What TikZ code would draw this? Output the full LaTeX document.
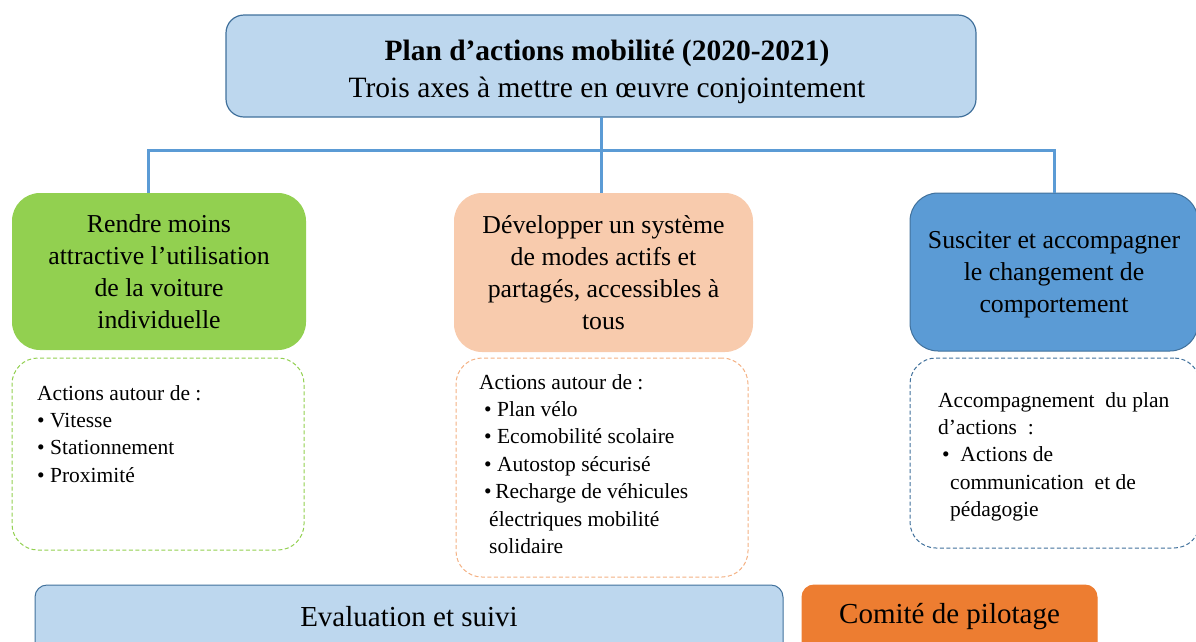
\documentclass[tikz,border=0pt]{standalone}
\usepackage{fontspec}
\setmainfont{Liberation Serif}
\definecolor{lightblue}{HTML}{BDD7EE}
\definecolor{darkblue}{HTML}{41719C}
\definecolor{lineblue}{HTML}{5B9BD5}
\definecolor{midblue}{HTML}{5B9BD5}
\definecolor{green1}{HTML}{92D050}
\definecolor{peach}{HTML}{F8CBAD}
\definecolor{peachline}{HTML}{F4B183}
\definecolor{orange1}{HTML}{ED7D31}
\begin{document}
\begin{tikzpicture}[x=1pt,y=-1pt,
  conn/.style={draw=lineblue, line width=3pt},
  bigbox/.style={rounded corners=28pt, inner sep=0pt, outer sep=0pt, align=center,
    font=\fontsize{25.8}{32}\selectfont},
  dashbox/.style={rounded corners=26pt, dash pattern=on 4pt off 2.5pt, line width=1pt,
    inner sep=0pt, outer sep=0pt, fill=white},
  listtext/.style={anchor=north west, align=left, inner sep=0pt,
    font=\fontsize{21.5}{27.4}\selectfont},
  basebox/.style={rounded corners=12pt, inner sep=0pt, outer sep=0pt, line width=1pt},
  basetext/.style={inner sep=0pt, font=\fontsize{29}{34}\selectfont}]
\useasboundingbox (0,0) rectangle (1196,641);
\clip (0,0) rectangle (1196,641);

% top box
\node[draw=darkblue, line width=1.2pt, fill=lightblue, rounded corners=18pt,
  inner sep=0pt, outer sep=0pt, minimum width=750pt, minimum height=102pt] (top) at (601,66) {};
\node[align=center, inner sep=0pt, font=\fontsize{29.5}{37}\selectfont] (toptext) at (607,72)
  {\textbf{Plan d’actions mobilité (2020-2021)}\\Trois axes à mettre en œuvre conjointement};

% three axes
\node[bigbox, fill=green1, minimum width=294pt, minimum height=157pt] (green) at (159,271.5)
  {Rendre moins\\attractive l’utilisation\\de la voiture\\individuelle};
\node[bigbox, fill=peach, minimum width=299pt, minimum height=159pt] (mid) at (603.5,272.5)
  {Développer un système\\de modes actifs et\\partagés, accessibles à\\tous};
\node[bigbox, fill=midblue, draw=darkblue, line width=1pt, minimum width=288pt, minimum height=158pt] (blue) at (1054,272) {};
\node[align=center, inner sep=0pt, font=\fontsize{25.8}{32}\selectfont] (bluetext) at (1054,275)
  {Susciter et accompagner\\le changement de\\comportement};

% connectors
\coordinate (hub) at (601,150);
\draw[conn] ([xshift=-11pt]green.north) |- (hub) -| (blue.north);
\draw[conn] (top.south) -- (top.south |- mid.north);

% dashed boxes
\node[dashbox, draw=green1, minimum width=292pt, minimum height=192pt] (gdash) at (158,454) {};
\node[dashbox, draw=peachline, minimum width=292pt, minimum height=219pt] (mdash) at (602,467.5) {};
\node[dashbox, draw=darkblue, minimum width=290pt, minimum height=190pt] (bdash) at (1055,453) {};

\node[listtext] (glist) at (37,385)
  {Actions autour de :\\
   \textbullet\ Vitesse\\
   \textbullet\ Stationnement\\
   \textbullet\ Proximité};
\node[listtext] (mlist) at (479,374)
  {Actions autour de :\\
   \hspace*{5pt}\textbullet\ Plan vélo\\
   \hspace*{5pt}\textbullet\ Ecomobilité scolaire\\
   \hspace*{5pt}\textbullet\ Autostop sécurisé\\
   \hspace*{5pt}\textbullet\,Recharge de véhicules\\
   \hspace*{10pt}électriques mobilité\\
   \hspace*{10pt}solidaire};
\node[listtext] (blist) at (938,392)
  {Accompagnement\ \ du plan\\
   d’actions\ \ :\\
   \hspace*{4pt}\textbullet\ \ Actions de\\
   \hspace*{12pt}communication\ \ et de\\
   \hspace*{12pt}pédagogie};

% bottom boxes
\node[basebox, draw=darkblue, fill=lightblue, minimum width=748pt, minimum height=80pt] (eval) at (409,625) {};
\node[basetext] (evaltext) at (409,617) {Evaluation et suivi};
\node[basebox, draw=orange1, fill=orange1, minimum width=295pt, minimum height=80pt] (comite) at (949.5,625) {};
\node[basetext] (comitetext) at (949.5,617) {Comité de pilotage};
\end{tikzpicture}
\end{document}
